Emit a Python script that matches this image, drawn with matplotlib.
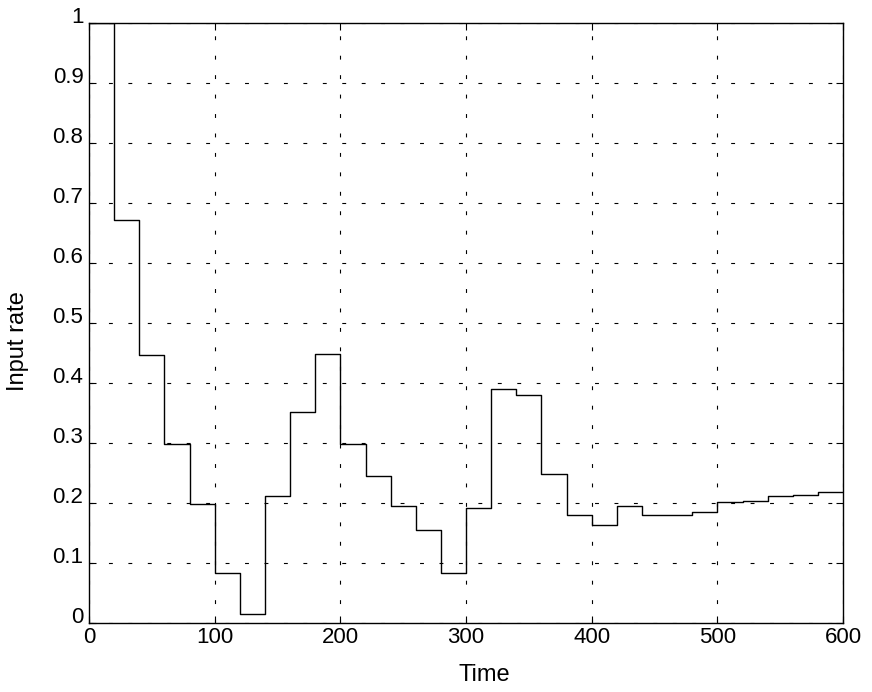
import matplotlib
matplotlib.use("Agg")
import matplotlib.pyplot as plt
import matplotlib.transforms as mtransforms

plt.rcParams['font.family'] = ['Liberation Sans', 'DejaVu Sans']

# step start times and the input rate held over each 20-unit interval
step_times = [0, 20, 40, 60, 80, 100, 120, 140, 160, 180,
              200, 220, 240, 260, 280, 300, 320, 340, 360, 380,
              400, 420, 440, 460, 480, 500, 520, 540, 560, 580]
input_rate = [1.0, 0.672, 0.447, 0.298, 0.198, 0.083, 0.015, 0.212, 0.352, 0.449,
              0.298, 0.245, 0.196, 0.156, 0.083, 0.192, 0.390, 0.381, 0.248, 0.180,
              0.164, 0.195, 0.180, 0.180, 0.185, 0.202, 0.204, 0.212, 0.214, 0.218]
end_time = 600

x_ticks = [0, 100, 200, 300, 400, 500, 600]
y_ticks = [0, 0.1, 0.2, 0.3, 0.4, 0.5, 0.6, 0.7, 0.8, 0.9, 1]
y_labels = ['0', '0.1', '0.2', '0.3', '0.4', '0.5', '0.6', '0.7', '0.8', '0.9', '1']

fig = plt.figure(figsize=(8.72, 6.92), dpi=100)
ax = fig.add_axes([0.1021, 0.0993, 0.8647, 0.867])

xs = step_times + [end_time]
ys = input_rate + [input_rate[-1]]
ax.step(xs, ys, where='post', color='black', linewidth=1.0)

ax.set_xlim(0, 600)
ax.set_ylim(0, 1)
ax.set_xticks(x_ticks)
ax.set_yticks(y_ticks)
ax.set_yticklabels(y_labels)

ax.grid(True, color='black', linewidth=0.8, linestyle=(0, (3.5, 14)))
ax.tick_params(direction='in', length=5, width=0.8, labelsize=16,
               top=True, right=True)
ax.tick_params(axis='x', pad=3)
ax.tick_params(axis='y', pad=4)
for s in ax.spines.values():
    s.set_linewidth(1.0)

# y tick labels sit a little above their ticks in the original
shift = mtransforms.ScaledTranslation(0, 0.085, fig.dpi_scale_trans)
for lab in ax.get_yticklabels():
    lab.set_transform(lab.get_transform() + shift)

ax.set_xlabel('Time', fontsize=17)
ax.set_ylabel('Input rate', fontsize=17)
ax.xaxis.set_label_coords(0.524, -0.068)
ax.yaxis.set_label_coords(-0.08, 0.47)

fig.savefig('out.png', dpi=100)
